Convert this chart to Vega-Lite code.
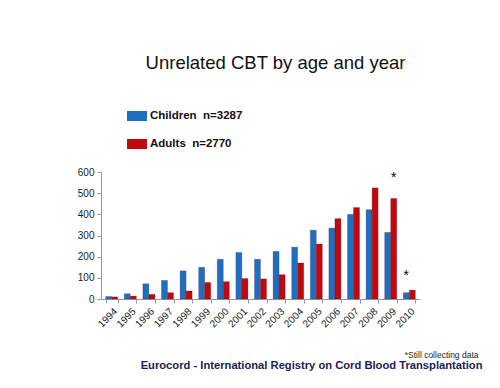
{
  "$schema": "https://vega.github.io/schema/vega-lite/v6.json",
  "width": 319,
  "height": 127,
  "autosize": {"type": "none"},
  "padding": {"left": 101, "top": 172, "right": 80, "bottom": 89},
  "background": "white",
  "config": {"view": {"stroke": null}, "font": "Liberation Sans"},
  "title": {
    "text": "Unrelated CBT by age and year",
    "fontSize": 18.5,
    "fontWeight": "normal",
    "color": "#111111",
    "anchor": "middle",
    "dx": 15,
    "offset": 34,
    "font": "Liberation Sans"
  },
  "encoding": {
    "x": {
      "field": "year",
      "type": "ordinal",
      "scale": {"paddingInner": 0.35, "paddingOuter": 0.25},
      "axis": {
        "title": "Eurocord - International Registry on Cord Blood Transplantation",
        "titleFont": "Liberation Sans",
        "titleFontSize": 11.2,
        "titleFontWeight": "bold",
        "titleColor": "#1b1b55",
        "titleX": 381,
        "titleY": 66,
        "titleAlign": "right",
        "titleAnchor": null,
        "titleBaseline": "middle",
        "labelAngle": -45,
        "labelFontSize": 10,
        "labelColor": "#222222",
        "labelPadding": 3,
        "domainColor": "#999999",
        "tickColor": "#999999",
        "tickBand": "extent",
        "tickSize": 4,
        "grid": false
      }
    },
    "xOffset": {"field": "group", "sort": ["Children", "Adults"]},
    "y": {
      "field": "n",
      "type": "quantitative",
      "scale": {"domain": [0, 600]},
      "axis": {
        "title": "*Still collecting data",
        "titleAngle": 0,
        "titleX": 377,
        "titleY": 182,
        "titleAlign": "right",
        "titleAnchor": null,
        "titleBaseline": "middle",
        "titleFontSize": 8.5,
        "titleFontWeight": "normal",
        "titleColor": "#222222",
        "values": [0, 100, 200, 300, 400, 500, 600],
        "labelOverlap": false,
        "grid": false,
        "domainColor": "#999999",
        "tickColor": "#999999",
        "tickSize": 4,
        "labelFontSize": 10,
        "labelColor": "#222222",
        "labelPadding": 3
      }
    }
  },
  "layer": [
    {
      "data": {
        "values": [
          {"year": "1994", "group": "Children", "n": 12},
          {"year": "1994", "group": "Adults", "n": 10},
          {"year": "1995", "group": "Children", "n": 25},
          {"year": "1995", "group": "Adults", "n": 14},
          {"year": "1996", "group": "Children", "n": 72},
          {"year": "1996", "group": "Adults", "n": 22},
          {"year": "1997", "group": "Children", "n": 88},
          {"year": "1997", "group": "Adults", "n": 30},
          {"year": "1998", "group": "Children", "n": 133},
          {"year": "1998", "group": "Adults", "n": 38},
          {"year": "1999", "group": "Children", "n": 150},
          {"year": "1999", "group": "Adults", "n": 78},
          {"year": "2000", "group": "Children", "n": 188},
          {"year": "2000", "group": "Adults", "n": 82},
          {"year": "2001", "group": "Children", "n": 220},
          {"year": "2001", "group": "Adults", "n": 97},
          {"year": "2002", "group": "Children", "n": 188},
          {"year": "2002", "group": "Adults", "n": 95},
          {"year": "2003", "group": "Children", "n": 225},
          {"year": "2003", "group": "Adults", "n": 115},
          {"year": "2004", "group": "Children", "n": 245},
          {"year": "2004", "group": "Adults", "n": 170},
          {"year": "2005", "group": "Children", "n": 325},
          {"year": "2005", "group": "Adults", "n": 260},
          {"year": "2006", "group": "Children", "n": 335},
          {"year": "2006", "group": "Adults", "n": 380},
          {"year": "2007", "group": "Children", "n": 400},
          {"year": "2007", "group": "Adults", "n": 432},
          {"year": "2008", "group": "Children", "n": 422},
          {"year": "2008", "group": "Adults", "n": 525},
          {"year": "2009", "group": "Children", "n": 315},
          {"year": "2009", "group": "Adults", "n": 475},
          {"year": "2010", "group": "Children", "n": 30},
          {"year": "2010", "group": "Adults", "n": 42}
        ]
      },
      "mark": {"type": "bar", "stroke": "#55000a", "strokeWidth": 0.4, "strokeOpacity": 0.5},
      "encoding": {
        "color": {
          "field": "group",
          "type": "nominal",
          "scale": {"domain": ["Children", "Adults"], "range": ["#1f6fc1", "#c1080e"]},
          "legend": {
            "orient": "none",
            "legendX": 26,
            "legendY": -66,
            "title": null,
            "symbolType": "M-1,-0.5H1V0.5H-1Z",
            "symbolSize": 400,
            "symbolStrokeWidth": 0,
            "labelFontSize": 11.5,
            "labelFontWeight": "bold",
            "labelColor": "#111111",
            "labelOffset": 3,
            "rowPadding": 12,
            "labelExpr": "datum.label == 'Children' ? 'Children\u00a0 n=3287' : '\u00a0\u00a0Adults\u00a0 n=2770'"
          }
        }
      }
    },
    {
      "data": {
        "values": [
          {"year": "2009", "group": "Adults", "n": 595, "note": "*"},
          {"year": "2010", "group": "Children", "n": 132, "note": "*"}
        ]
      },
      "mark": {"type": "text", "fontSize": 15, "baseline": "middle", "dy": 4, "color": "#111111"},
      "encoding": {
        "text": {"field": "note"}
      }
    }
  ]
}
